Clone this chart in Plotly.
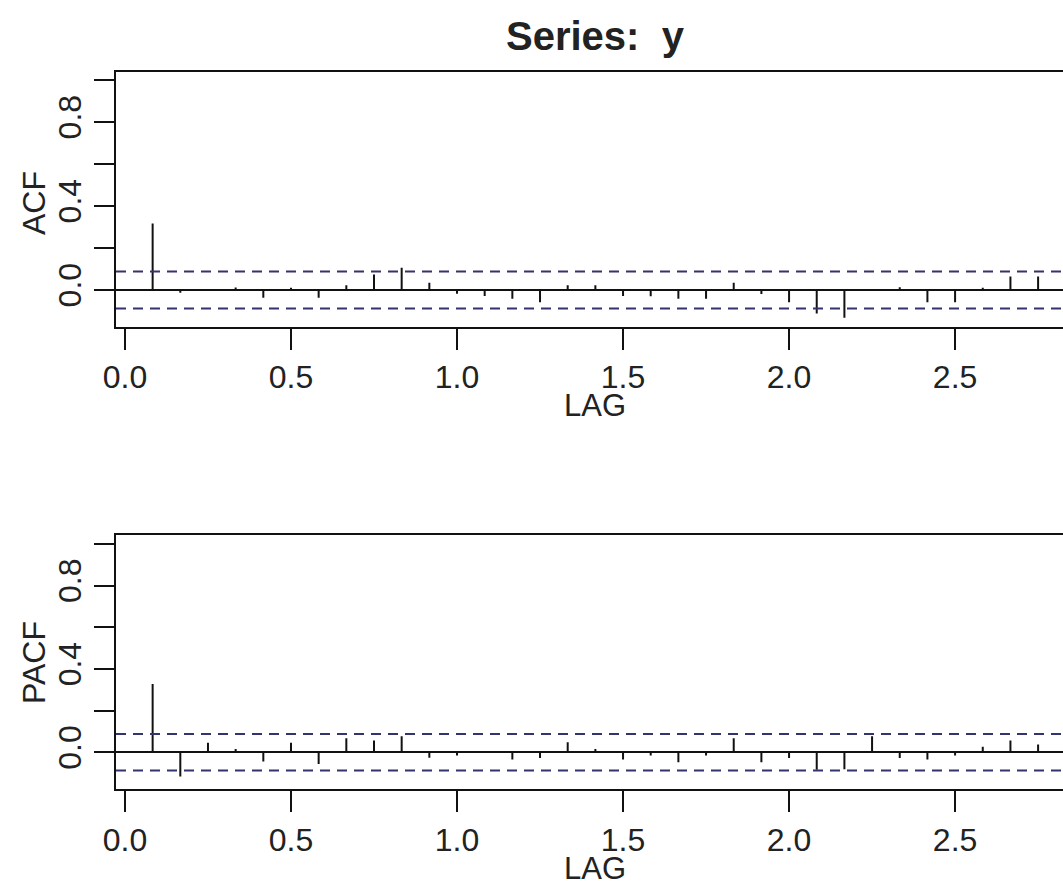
import plotly.graph_objects as go

# ---- data ----
freq = 12
lag_numbers = list(range(1, 34))
acf_values = [0.317, -0.013, 0.003, 0.012, -0.037, 0.010, -0.037, 0.022, 0.074, 0.106,
              0.034, -0.018, -0.029, -0.042, -0.058, 0.022, 0.022, -0.029, -0.030, -0.042,
              -0.042, 0.034, -0.019, -0.058, -0.112, -0.132, 0.003, 0.013, -0.058, -0.058,
              0.010, 0.064, 0.064]
pacf_values = [0.328, -0.117, 0.045, 0.016, -0.045, 0.045, -0.056, 0.067, 0.056, 0.077,
               -0.026, -0.016, 0.004, -0.035, -0.028, 0.048, 0.016, -0.035, -0.016, -0.048,
               -0.016, 0.067, -0.048, -0.028, -0.084, -0.082, 0.077, -0.028, -0.035, -0.016,
               0.026, 0.056, 0.037]
conf_limit = 0.088
x_tick_vals = [0.0, 0.5, 1.0, 1.5, 2.0, 2.5]
x_tick_text = ["0.0", "0.5", "1.0", "1.5", "2.0", "2.5"]
y_tick_vals = [0.0, 0.2, 0.4, 0.6, 0.8, 1.0]
y_tick_text = ["0.0", "", "0.4", "", "0.8", ""]
title_text = "Series:\u00a0 y"

FONT = "Liberation Sans, Arial, sans-serif"
INK = "#111111"
TXT = "#222222"
DASH = "#33336e"

lags = [k / freq for k in lag_numbers]


def spikes(vals):
    xs, ys = [], []
    for x, v in zip(lags, vals):
        xs += [x, x, None]
        ys += [0, v, None]
    return xs, ys


fig = go.Figure()
for vals, ax in [(acf_values, ("x", "y")), (pacf_values, ("x2", "y2"))]:
    xs, ys = spikes(vals)
    fig.add_trace(go.Scatter(x=xs, y=ys, mode="lines", xaxis=ax[0], yaxis=ax[1],
                             line=dict(color=INK, width=2), showlegend=False,
                             hoverinfo="skip"))

W, H = 1063, 891
ML = 116
PW = W - ML


def py(pix):
    return (H - pix) / H


def px(pix):
    return (pix - ML) / PW


xaxis_common = dict(
    range=[-0.027, 2.825], tickvals=x_tick_vals, ticktext=x_tick_text,
    ticks="outside", ticklen=21, tickwidth=2, tickcolor=INK,
    showline=True, linewidth=2, linecolor=INK, mirror=True,
    showgrid=False, zeroline=False,
    tickfont=dict(family=FONT, size=32, color=TXT), domain=[0, 1],
)
yaxis_common = dict(
    tickvals=y_tick_vals, ticktext=y_tick_text, tickangle=-90,
    ticks="outside", ticklen=20, tickwidth=2, tickcolor=INK,
    showline=True, linewidth=2, linecolor=INK, mirror=False,
    showgrid=False, zeroline=True, zerolinecolor=INK, zerolinewidth=2,
    tickfont=dict(family=FONT, size=32, color=TXT),
)

fig.update_layout(
    width=W, height=H,
    margin=dict(l=ML, r=0, t=0, b=0),
    paper_bgcolor="white", plot_bgcolor="white",
    xaxis=dict(anchor="y", **xaxis_common),
    yaxis=dict(anchor="x", domain=[py(326.7), py(72)], range=[-0.175, 1.038], **yaxis_common),
    xaxis2=dict(anchor="y2", **xaxis_common),
    yaxis2=dict(anchor="x2", domain=[py(789.3), py(535)], range=[-0.178, 1.043], **yaxis_common),
)

shapes = []
for yref, xref in [("y", "x"), ("y2", "x2")]:
    for c in (conf_limit, -conf_limit):
        shapes.append(dict(type="line", xref=f"{xref} domain", x0=0, x1=1,
                           yref=yref, y0=c, y1=c,
                           line=dict(color=DASH, width=2, dash="10px,7px")))
fig.update_layout(shapes=shapes)

cx = px(595)
ann = [
    dict(text=f"<b>{title_text}</b>", x=cx, y=py(36), font=dict(size=40)),
    dict(text="LAG", x=cx, y=py(405), font=dict(size=31)),
    dict(text="LAG", x=cx, y=py(868), font=dict(size=31)),
    dict(text="ACF", x=px(34), y=py(203), font=dict(size=32), textangle=-90),
    dict(text="PACF", x=px(34), y=py(663), font=dict(size=32), textangle=-90),
]
for a in ann:
    a.update(xref="paper", yref="paper", showarrow=False, xanchor="center", yanchor="middle")
    a["font"].update(family=FONT, color=TXT)
fig.update_layout(annotations=ann)

fig.write_html("out.html", config={"displayModeBar": False},
               post_script="document.body.style.margin='0';document.body.style.overflow='hidden';")
